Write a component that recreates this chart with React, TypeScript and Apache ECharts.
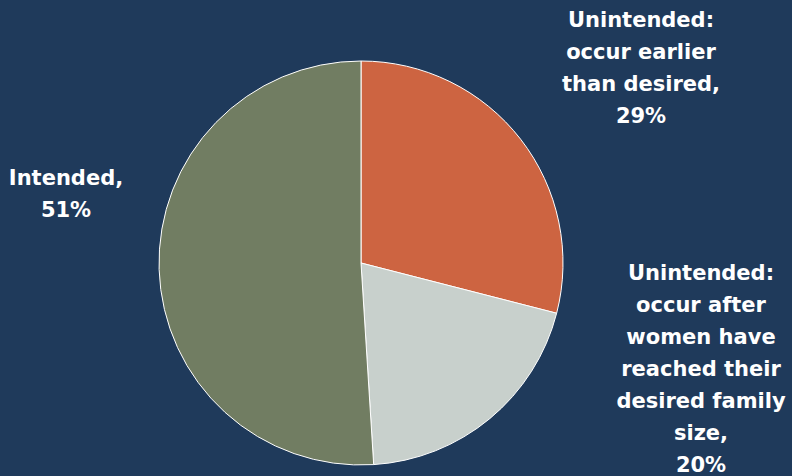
import React, { useEffect, useRef } from "react";
import * as echarts from "echarts";

const categories = [
  "Unintended:\noccur earlier\nthan desired,",
  "Unintended:\noccur after\nwomen have\nreached their\ndesired family\nsize,",
  "Intended,",
];
const values = [29, 20, 51];
const colors = ["#CD6441", "#C8D0CC", "#717D62"];

const labelPos = [
  { x: 641, y: 68 },
  { x: 701, y: 369 },
  { x: 66, y: 194 },
];

export default function App() {
  const ref = useRef<HTMLDivElement>(null);
  useEffect(() => {
    if (!ref.current) return;
    const chart = echarts.init(ref.current, null, { renderer: "svg" });
    chart.setOption({
      animation: false,
      backgroundColor: "#1F3A5B",
      series: [
        {
          type: "pie",
          center: [361, 263],
          radius: 202,
          startAngle: 90,
          clockwise: true,
          data: categories.map((name, i) => ({
            name,
            value: values[i],
            itemStyle: { color: colors[i] },
          })),
          itemStyle: { borderColor: "#FFFFFF", borderWidth: 1 },
          label: {
            show: true,
            position: "outside",
            alignTo: "none",
            overflow: "none",
            formatter: (p: any) => `${p.name}\n${p.value}%`,
            color: "#FFFFFF",
            fontFamily: "DejaVu Sans",
            fontWeight: "bold",
            fontSize: 21,
            lineHeight: 32,
            align: "center",
          },
          labelLine: { show: false },
          labelLayout: (params: any) => {
            const p = labelPos[params.dataIndex];
            return {
              x: p.x,
              y: p.y,
              align: "center",
              verticalAlign: "middle",
              width: 300,
            };
          },
          emphasis: { disabled: true },
        },
      ],
    });
    return () => chart.dispose();
  }, []);
  return (
    <div
      ref={ref}
      style={{ position: "fixed", left: 0, top: 0, width: 792, height: 476 }}
    />
  );
}
